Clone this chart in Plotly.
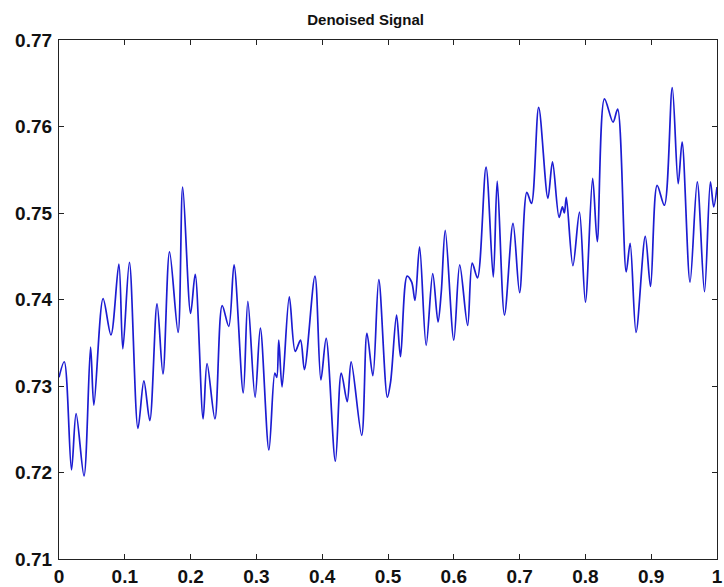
import plotly.graph_objects as go

x_vals = [0.000, 0.008, 0.019, 0.026, 0.038, 0.048, 0.053, 0.067, 0.079, 0.091,
          0.097, 0.107, 0.120, 0.129, 0.138, 0.149, 0.158, 0.168, 0.181, 0.188,
          0.200, 0.207, 0.219, 0.225, 0.237, 0.248, 0.258, 0.266, 0.280, 0.287,
          0.298, 0.306, 0.319, 0.328, 0.331, 0.334, 0.339, 0.350, 0.359, 0.367,
          0.373, 0.389, 0.398, 0.406, 0.420, 0.429, 0.438, 0.444, 0.460, 0.468,
          0.477, 0.486, 0.499, 0.504, 0.513, 0.519, 0.529, 0.536, 0.541, 0.548,
          0.558, 0.568, 0.576, 0.581, 0.587, 0.600, 0.609, 0.621, 0.628, 0.636,
          0.649, 0.660, 0.666, 0.677, 0.690, 0.700, 0.711, 0.718, 0.729, 0.743,
          0.750, 0.760, 0.765, 0.768, 0.771, 0.781, 0.791, 0.800, 0.811, 0.818,
          0.829, 0.842, 0.849, 0.862, 0.868, 0.877, 0.891, 0.899, 0.909, 0.920,
          0.932, 0.941, 0.947, 0.959, 0.970, 0.981, 0.990, 0.995, 1.000]

y_vals = [0.7310, 0.7328, 0.7203, 0.7268, 0.7196, 0.7345, 0.7278, 0.7401, 0.7359, 0.7441,
          0.7343, 0.7443, 0.7251, 0.7306, 0.7260, 0.7395, 0.7314, 0.7455, 0.7362, 0.7530,
          0.7384, 0.7429, 0.7262, 0.7326, 0.7262, 0.7393, 0.7369, 0.7440, 0.7292, 0.7398,
          0.7287, 0.7367, 0.7226, 0.7315, 0.7310, 0.7353, 0.7299, 0.7403, 0.7340, 0.7353,
          0.7319, 0.7427, 0.7307, 0.7355, 0.7213, 0.7315, 0.7282, 0.7328, 0.7243, 0.7361,
          0.7312, 0.7423, 0.7287, 0.7305, 0.7382, 0.7334, 0.7427, 0.7420, 0.7399, 0.7461,
          0.7347, 0.7430, 0.7374, 0.7409, 0.7480, 0.7353, 0.7440, 0.7370, 0.7442, 0.7425,
          0.7553, 0.7426, 0.7537, 0.7382, 0.7488, 0.7408, 0.7524, 0.7511, 0.7622, 0.7517,
          0.7559, 0.7495, 0.7507, 0.7500, 0.7518, 0.7439, 0.7501, 0.7397, 0.7540, 0.7467,
          0.7632, 0.7605, 0.7620, 0.7432, 0.7465, 0.7362, 0.7473, 0.7415, 0.7532, 0.7509,
          0.7645, 0.7534, 0.7582, 0.7420, 0.7536, 0.7409, 0.7536, 0.7507, 0.7530]

x_ticks = [0, 0.1, 0.2, 0.3, 0.4, 0.5, 0.6, 0.7, 0.8, 0.9, 1]
x_tick_labels = ["0", "0.1", "0.2", "0.3", "0.4", "0.5", "0.6", "0.7", "0.8", "0.9", "1"]
y_ticks = [0.71, 0.72, 0.73, 0.74, 0.75, 0.76, 0.77]
y_tick_labels = ["0.71", "0.72", "0.73", "0.74", "0.75", "0.76", "0.77"]

fig = go.Figure()
fig.add_trace(go.Scatter(
    x=x_vals, y=y_vals, mode="lines",
    line=dict(color="#1c1cd2", width=1.7, shape="spline", smoothing=0.9),
    showlegend=False, hoverinfo="skip",
))

axis_common = dict(
    showgrid=False, zeroline=False, showline=True, linecolor="#222222", linewidth=1.2,
    mirror="ticks", ticks="inside", ticklen=5, tickwidth=1.2, tickcolor="#222222",
    tickfont=dict(family="Liberation Sans, Arial, sans-serif", size=19, color="#111111"),
    ticklabeloverflow="allow", automargin=False,
)

fig.update_layout(
    width=724, height=587,
    margin=dict(l=59, r=7, t=40, b=28),
    paper_bgcolor="white", plot_bgcolor="white",
    title=dict(text="<b>Denoised Signal</b>", x=0.505, xanchor="center", y=0.966, yanchor="middle",
               font=dict(family="Liberation Sans Narrow, Liberation Sans, Arial, sans-serif", size=15, color="#111111")),
    xaxis=dict(range=[0, 1], tickvals=x_ticks, ticktext=[f"<b>{t}</b>" for t in x_tick_labels],
               ticklabelstandoff=0, **axis_common),
    yaxis=dict(range=[0.71, 0.77], tickvals=y_ticks, ticktext=[f"<b>{t}</b>" for t in y_tick_labels],
               ticklabelstandoff=2, **axis_common),
)

fig.write_html("out.html", config={"displayModeBar": False},
               post_script="document.body.style.margin='0px';document.body.style.overflow='hidden';")
